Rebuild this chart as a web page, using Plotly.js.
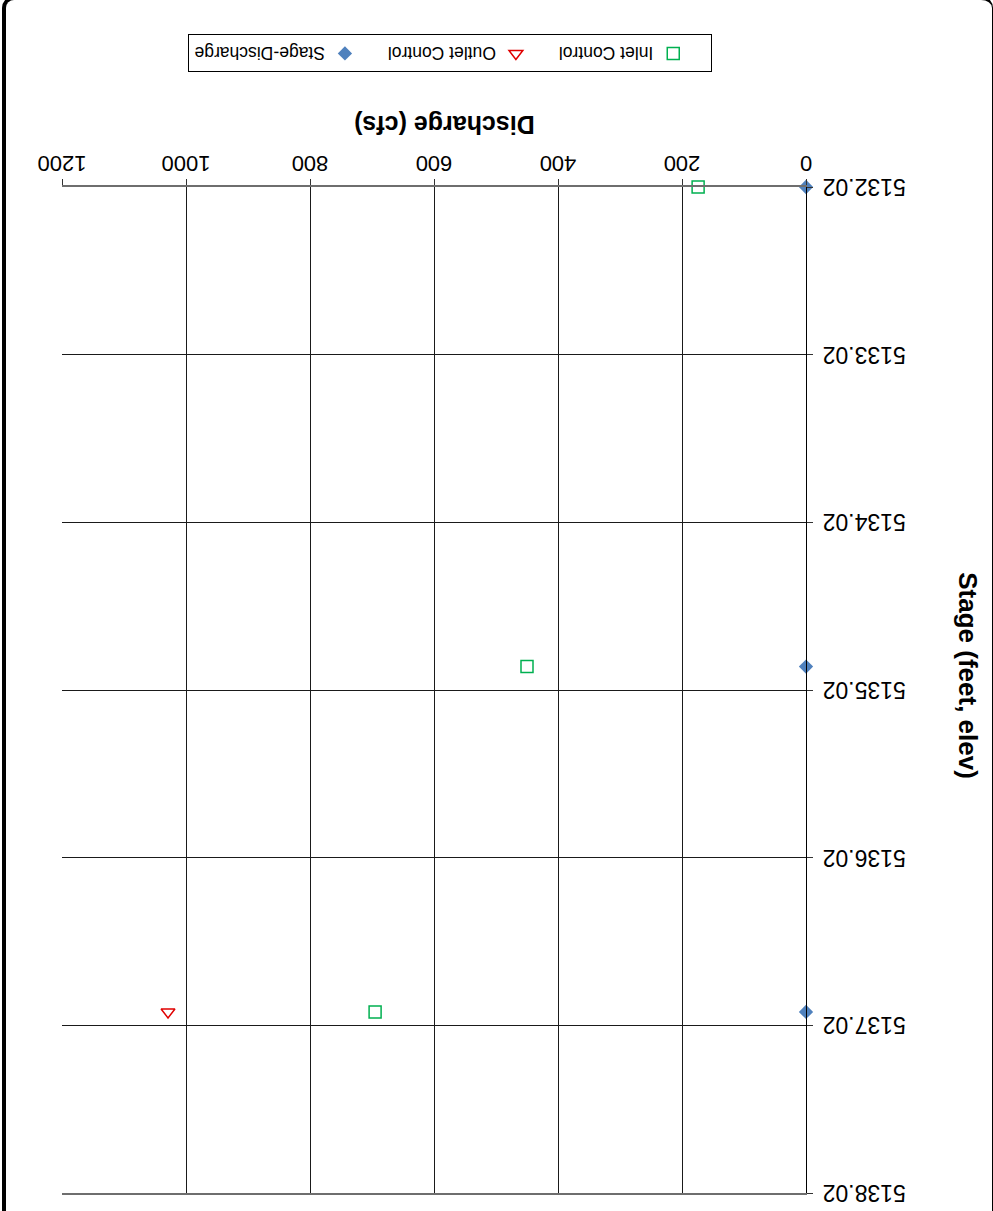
<!DOCTYPE html>
<html>
<head>
<meta charset="utf-8">
<script src="https://cdn.plot.ly/plotly-3.0.1.min.js"></script>
<style>
  html, body { margin: 0; padding: 0; background: #fff; overflow: hidden; }
  #page { position: relative; width: 993px; height: 1211px; transform: rotate(180deg); transform-origin: 50% 50%; overflow: hidden; }
  #frame { position: absolute; left: 0px; top: -30px; width: 986px; height: 1241px;
           border-left: 1px solid #000; border-right: 4px solid #000; border-bottom: 4px solid #000;
           border-radius: 12px; }
  #chart { position: absolute; left: 0; top: 0; width: 993px; height: 1211px; }
</style>
</head>
<body>
<div id="page">
  <div id="frame"></div>
  <div id="chart"></div>
</div>
<script>
// Culvert rating: stage vs discharge
const stageTicks = [5132.02, 5133.02, 5134.02, 5135.02, 5136.02, 5137.02, 5138.02];
const dischargeTicks = [0, 200, 400, 600, 800, 1000, 1200];

const inletStage = [5132.02, 5134.88, 5136.94];
const inletQ = [174, 450, 695];

const outletStage = [5136.94];
const outletQ = [1029];

const ratingStage = [5132.02, 5134.88, 5136.94];
const ratingQ = [0, 0, 0];

const font = "'Liberation Sans', Arial, sans-serif";

const traces = [
  {
    name: 'Inlet Control', type: 'scatter', mode: 'markers',
    x: inletQ, y: inletStage,
    marker: { symbol: 'square-open', size: 12, color: '#00b050', line: { width: 1.5, color: '#00b050' } },
    cliponaxis: false
  },
  {
    name: 'Outlet Control', type: 'scatter', mode: 'markers',
    x: outletQ, y: outletStage,
    marker: { symbol: 'triangle-up-open', size: 12, color: '#e00000', line: { width: 1.5, color: '#e00000' } },
    cliponaxis: false
  },
  {
    name: 'Stage-Discharge', type: 'scatter', mode: 'markers',
    x: ratingQ, y: ratingStage,
    marker: { symbol: 'diamond', size: 11, color: '#4f81bd' },
    cliponaxis: false
  }
];

const layout = {
  width: 993, height: 1211,
  margin: { l: 187, r: 62, t: 18, b: 187 },
  paper_bgcolor: 'rgba(0,0,0,0)',
  plot_bgcolor: '#fff',
  font: { family: font, color: '#000' },
  showlegend: true,
  legend: {
    orientation: 'h', x: 0.126, xanchor: 'left', y: -0.114, yanchor: 'top',
    bordercolor: '#000', borderwidth: 1, bgcolor: '#fff',
    font: { size: 17.5, family: font },
    indentation: 18,
    traceorder: 'normal'
  },
  xaxis: {
    range: [0, 1200], tickvals: dischargeTicks, ticktext: dischargeTicks.map(String),
    showgrid: true, gridcolor: '#1a1a1a', gridwidth: 1,
    showline: true, linecolor: '#6e6e6e', linewidth: 2, mirror: true,
    ticks: 'outside', ticklen: 6, tickcolor: '#333',
    ticklabelstandoff: -3,
    tickfont: { size: 22, family: font },
    zeroline: false,
    title: { text: '<b>Discharge (cfs)</b>&nbsp;&nbsp;&nbsp;', font: { size: 25, family: font }, standoff: 18 },
    automargin: false
  },
  yaxis: {
    range: [5132.02, 5138.02], tickvals: stageTicks, ticktext: stageTicks.map(v => v.toFixed(2)),
    showgrid: true, gridcolor: '#1a1a1a', gridwidth: 1,
    showline: true, linecolor: '#000', linewidth: 1,
    ticks: 'outside', ticklen: 6, tickcolor: '#333',
    ticklabelstandoff: 5,
    tickfont: { size: 23, family: font },
    zeroline: false,
    title: { text: '<b>Stage (feet, elev)</b>&nbsp;&nbsp;&nbsp;&nbsp;', font: { size: 26, family: font }, standoff: 45 },
    automargin: false
  }
};

Plotly.newPlot('chart', traces, layout, { displayModeBar: false, staticPlot: true });
</script>
</body>
</html>
